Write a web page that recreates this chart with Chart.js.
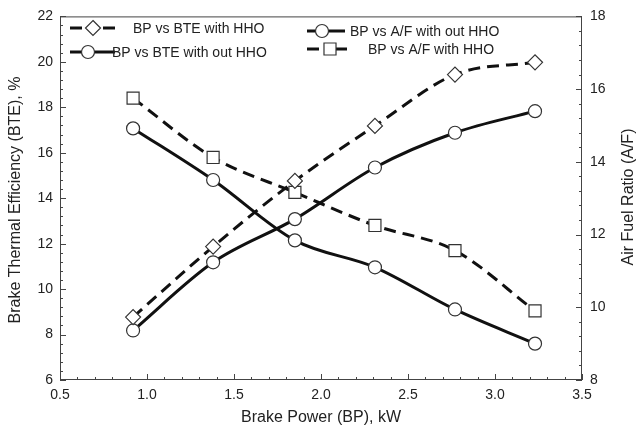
<!DOCTYPE html>
<html lang="en">
<head>
  <meta charset="UTF-8">
  <title>BP vs BTE and A/F</title>
  <script src="https://cdn.jsdelivr.net/npm/chart.js"></script>
  <style>
    html, body { margin: 0; padding: 0; background: #fff; }
    #wrap { width: 638px; height: 440px; }
  </style>
</head>
<body>
  <div id="wrap"><canvas id="chart" width="638" height="440"></canvas></div>

  <script>
  // Data
  const bp = [0.92, 1.38, 1.85, 2.31, 2.77, 3.23];
  const bteWithHHO = [8.77, 11.87, 14.76, 17.18, 19.44, 19.98];
  const bteWithoutHHO = [8.18, 11.18, 13.08, 15.35, 16.88, 17.83];
  const afWithoutHHO = [14.92, 13.5, 11.84, 11.1, 9.94, 9.0];
  const afWithHHO = [15.75, 14.12, 13.16, 12.25, 11.56, 9.9];

  const xTicks = [0.5, 1.0, 1.5, 2.0, 2.5, 3.0, 3.5];
  const bteTicks = [6, 8, 10, 12, 14, 16, 18, 20, 22];
  const afTicks = [8, 10, 12, 14, 16, 18];

  const labels = ['BP vs BTE with HHO', 'BP vs BTE with out HHO', 'BP vs A/F with out HHO', 'BP vs A/F with HHO'];

  const FONT = '"Liberation Sans", Arial, sans-serif';
  const INK = '#111';

  const pts = ys => bp.map((x, i) => ({ x: x, y: ys[i] }));

  function series(label, ys, axis, style, radius, dashed) {
    return {
      label: label,
      data: pts(ys),
      yAxisID: axis,
      borderColor: INK,
      borderWidth: 3,
      borderDash: dashed ? [12, 7] : [],
      cubicInterpolationMode: 'monotone',
      pointStyle: style,
      pointRadius: radius,
      pointHoverRadius: radius,
      pointBackgroundColor: '#fff',
      pointBorderColor: '#333',
      pointBorderWidth: 1.2
    };
  }

  function marker(ctx, style, x, y, r) {
    ctx.beginPath();
    if (style === 'circle') {
      ctx.arc(x, y, r, 0, Math.PI * 2);
    } else if (style === 'rectRot') {
      ctx.moveTo(x, y - r); ctx.lineTo(x + r, y); ctx.lineTo(x, y + r); ctx.lineTo(x - r, y); ctx.closePath();
    } else {
      const s = r / Math.SQRT2;
      ctx.rect(x - s, y - s, 2 * s, 2 * s);
    }
    ctx.fillStyle = '#fff';
    ctx.fill();
    ctx.lineWidth = 1.2;
    ctx.strokeStyle = '#333';
    ctx.stroke();
  }

  // legend spots: [lineStart, lineEnd, markerX, y, textX]
  const legendSpots = [
    [70, 115, 93, 28, 133],
    [70, 115, 88, 52, 112],
    [307, 345, 322, 31, 350],
    [307, 347, 330, 49, 368]
  ];

  const decor = {
    id: 'decor',
    beforeDatasetsDraw(chart) {
      const { ctx, chartArea: a, scales } = chart;
      ctx.save();
      ctx.strokeStyle = '#444';
      ctx.lineWidth = 1;
      ctx.strokeRect(a.left + 0.5, a.top + 0.5, a.right - a.left - 1, a.bottom - a.top - 1);
      const tick = (x1, y1, x2, y2) => { ctx.beginPath(); ctx.moveTo(x1, y1); ctx.lineTo(x2, y2); ctx.stroke(); };
      for (let i = 0; i <= 30; i++) {
        const x = Math.round(scales.x.getPixelForValue(0.5 + i * 0.1)) + 0.5;
        tick(x, a.bottom, x, a.bottom - (i % 5 === 0 ? 6 : 3));
      }
      for (let i = 0; i <= 40; i++) {
        const y = Math.round(scales.y.getPixelForValue(6 + i * 0.4)) + 0.5;
        tick(a.left, y, a.left + (i % 5 === 0 ? 6 : 3), y);
      }
      for (let i = 0; i <= 25; i++) {
        const y = Math.round(scales.y1.getPixelForValue(8 + i * 0.4)) + 0.5;
        tick(a.right, y, a.right - (i % 5 === 0 ? 6 : 3), y);
      }
      ctx.restore();
    },
    afterDatasetsDraw(chart) {
      const { ctx, chartArea: a } = chart;
      ctx.save();
      // legend
      chart.data.datasets.forEach((ds, i) => {
        const [x0, x1, mx, y, tx] = legendSpots[i];
        ctx.strokeStyle = INK;
        ctx.lineWidth = 3;
        ctx.beginPath();
        if (ds.borderDash.length) {
          ctx.moveTo(x0, y); ctx.lineTo(x0 + 12, y);
          ctx.moveTo(x1 - 12, y); ctx.lineTo(x1, y);
        } else {
          ctx.moveTo(x0, y); ctx.lineTo(x1, y);
        }
        ctx.stroke();
        marker(ctx, ds.pointStyle, mx, y, ds.pointRadius);
        ctx.fillStyle = '#222';
        ctx.font = '14px ' + FONT;
        ctx.textAlign = 'left';
        ctx.textBaseline = 'middle';
        ctx.fillText(ds.label, tx, y + 1);
      });
      // axis titles
      ctx.fillStyle = '#222';
      ctx.font = '16px ' + FONT;
      ctx.textAlign = 'center';
      ctx.textBaseline = 'middle';
      ctx.fillText('Brake Power (BP), kW', (a.left + a.right) / 2, 418);
      ctx.translate(16, 200);
      ctx.rotate(-Math.PI / 2);
      ctx.fillText('Brake Thermal Efficiency (BTE), %', 0, 0);
      ctx.setTransform(1, 0, 0, 1, 0, 0);
      ctx.translate(629, 197);
      ctx.rotate(-Math.PI / 2);
      ctx.fillText('Air Fuel Ratio (A/F)', 0, 0);
      ctx.restore();
    }
  };

  const tickFont = { family: FONT, size: 14 };

  new Chart(document.getElementById('chart'), {
    type: 'line',
    data: {
      datasets: [
        series(labels[0], bteWithHHO, 'y', 'rectRot', 7.5, true),
        series(labels[1], bteWithoutHHO, 'y', 'circle', 6.5, false),
        series(labels[2], afWithoutHHO, 'y1', 'circle', 6.5, false),
        series(labels[3], afWithHHO, 'y1', 'rect', 8.5, true)
      ]
    },
    options: {
      responsive: false,
      animation: false,
      devicePixelRatio: 1,
      layout: { padding: { top: 15, left: 0, right: 0, bottom: 0 } },
      plugins: { legend: { display: false }, tooltip: { enabled: false } },
      scales: {
        x: {
          type: 'linear', min: 0.5, max: 3.5,
          afterBuildTicks: s => { s.ticks = xTicks.map(v => ({ value: v })); },
          afterFit: s => { s.height = 60; },
          ticks: { font: tickFont, color: '#222', padding: 7, maxRotation: 0, autoSkip: false, callback: v => Number(v).toFixed(1) },
          grid: { display: false, drawTicks: false },
          border: { display: false }
        },
        y: {
          type: 'linear', position: 'left', min: 6, max: 22,
          afterBuildTicks: s => { s.ticks = bteTicks.map(v => ({ value: v })); },
          afterFit: s => { s.width = 60; },
          ticks: { font: tickFont, color: '#222', padding: 7, autoSkip: false, callback: v => String(v) },
          grid: { display: false, drawTicks: false },
          border: { display: false }
        },
        y1: {
          type: 'linear', position: 'right', min: 8, max: 18,
          afterBuildTicks: s => { s.ticks = afTicks.map(v => ({ value: v })); },
          afterFit: s => { s.width = 56; },
          ticks: { font: tickFont, color: '#222', padding: 8, autoSkip: false, callback: v => String(v) },
          grid: { display: false, drawTicks: false },
          border: { display: false }
        }
      }
    },
    plugins: [decor]
  });
  </script>
</body>
</html>
